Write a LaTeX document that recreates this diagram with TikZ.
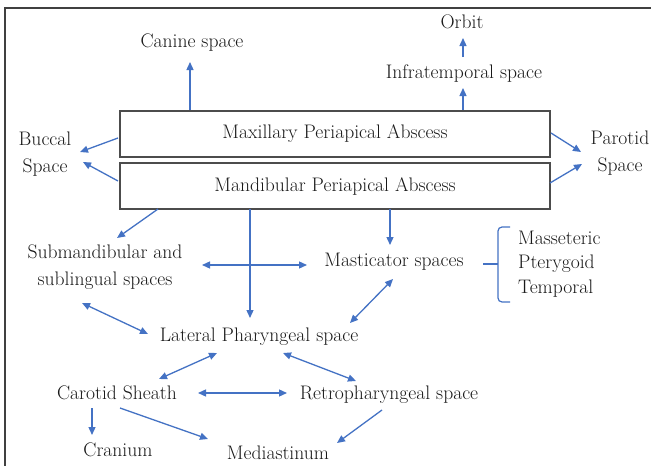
\documentclass[tikz,border=0pt]{standalone}
\usetikzlibrary{arrows.meta}
\definecolor{arr}{RGB}{68,114,196}
\definecolor{txt}{RGB}{25,25,25}
\tikzset{
  lbl/.style={text=txt, font=\fontsize{19.6}{24.5}\selectfont, inner sep=0pt, align=center},
  ar/.style={draw=arr, line width=1.3pt, -{Triangle[length=8pt,width=7pt]}},
  dar/.style={draw=arr, line width=1.3pt, {Triangle[length=8pt,width=7pt]}-{Triangle[length=8pt,width=7pt]}},
  boxx/.style={draw=black!70, line width=1.8pt, minimum width=430pt, inner sep=0pt, text=txt, font=\fontsize{19.6}{24.5}\selectfont}
}
\begin{document}
\begin{tikzpicture}[x=1pt,y=-1pt]
\useasboundingbox (0,0) rectangle (651,466);
\fill[white] (0,0) rectangle (651,466);
\draw[black!75, line width=2.4pt] (5,467) -- (5,8) -- (652,8);
\node[boxx, minimum height=46pt] (max) at (335,134) {Maxillary Periapical Abscess};
\node[boxx, minimum height=46pt] (man) at (335,186) {Mandibular Periapical Abscess};
\node[lbl] (canine) at (192,43) {Canine space};
\node[lbl] (orbit) at (462,22) {Orbit};
\node[lbl] (infra) at (464,74) {Infratemporal space};
\node[lbl] (buccal) at (45,154) {Buccal\\[2pt]Space};
\node[lbl] (parotid) at (620,153) {Parotid\\[2pt]Space};
\node[lbl] (subm) at (105,267) {Submandibular and\\[3pt]sublingual spaces};
\node[lbl] (mast) at (394,262) {Masticator spaces};
\node[lbl, align=left, anchor=west] (mus) at (518,264) {Masseteric\\Pterygoid\\Temporal};
\node[lbl] (lat) at (259,337) {Lateral Pharyngeal space};
\node[lbl] (car) at (117,393) {Carotid Sheath};
\node[lbl] (retro) at (389,395) {Retropharyngeal space};
\node[lbl] (cran) at (118,450) {Cranium};
\node[lbl] (med) at (278,453) {Mediastinum};
% connectors
\coordinate (c1) at (190,110); \coordinate (c2) at (190,62);
\draw[ar] (c1) -- (c2);
\coordinate (i1) at (463,110); \coordinate (i2) at (463,88);
\draw[ar] (i1) -- (i2);
\coordinate (o1) at (463,57); \coordinate (o2) at (463,38);
\draw[ar] (o1) -- (o2);
\coordinate (b1) at (118,138); \coordinate (b2) at (80,152);
\draw[ar] (b1) -- (b2);
\coordinate (b3) at (118,181); \coordinate (b4) at (83,162);
\draw[ar] (b3) -- (b4);
\coordinate (p1) at (551,133); \coordinate (p2) at (581,152);
\draw[ar] (p1) -- (p2);
\coordinate (p3) at (550,183); \coordinate (p4) at (582,164);
\draw[ar] (p3) -- (p4);
\coordinate (s1) at (158,209); \coordinate (s2) at (117,238);
\draw[ar] (s1) -- (s2);
\coordinate (l1) at (250,209); \coordinate (l2) at (250,318);
\draw[ar] (l1) -- (l2);
\coordinate (m1) at (390,209); \coordinate (m2) at (390,245);
\draw[ar] (m1) -- (m2);
\coordinate (sm1) at (202,265); \coordinate (sm2) at (307,265);
\draw[dar] (sm1) -- (sm2);
\coordinate (sl1) at (82,303); \coordinate (sl2) at (148,334);
\draw[dar] (sl1) -- (sl2);
\coordinate (ml1) at (393,279); \coordinate (ml2) at (350,323);
\draw[dar] (ml1) -- (ml2);
\coordinate (lc1) at (217,353); \coordinate (lc2) at (159,379);
\draw[dar] (lc1) -- (lc2);
\coordinate (lr1) at (283,353); \coordinate (lr2) at (356,381);
\draw[dar] (lr1) -- (lr2);
\coordinate (cr1) at (198,393); \coordinate (cr2) at (287,393);
\draw[dar] (cr1) -- (cr2);
\coordinate (cc1) at (92,408); \coordinate (cc2) at (92,435);
\draw[ar] (cc1) -- (cc2);
\coordinate (cm1) at (120,408); \coordinate (cm2) at (208,439);
\draw[ar] (cm1) -- (cm2);
\coordinate (rm1) at (382,410); \coordinate (rm2) at (337,443);
\draw[ar] (rm1) -- (rm2);
% bracket
\coordinate (br) at (483,264);
\draw[arr, line width=1.2pt, rounded corners=4pt] (510,227) -- (498,227) -- (498,302) -- (510,302);
\draw[arr, line width=1.2pt] (br) -- (498,264);
\end{tikzpicture}
\end{document}
